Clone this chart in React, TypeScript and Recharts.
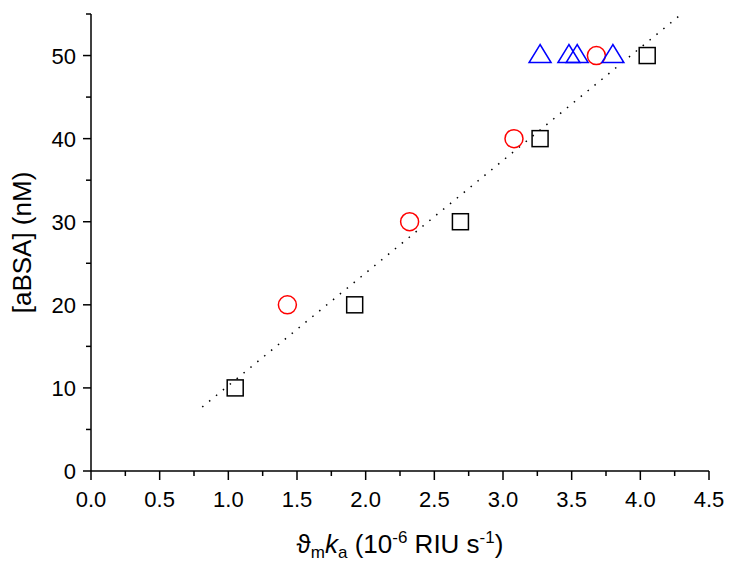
import React from 'react';
import { ScatterChart, Scatter, XAxis, YAxis } from 'recharts';

// data
const squareX = [1.05, 1.92, 2.69, 3.27, 4.05];
const squareY = [10, 20, 30, 40, 50];
const circleX = [1.43, 2.32, 3.08, 3.68];
const circleY = [20, 30, 40, 50];
const triangleX = [3.27, 3.48, 3.54, 3.8];
const triangleY = [50, 50, 50, 50];
const fitX = [0.81, 4.3];
const fitY = [7.7, 55];

const xMajorTicks = [0, 0.5, 1, 1.5, 2, 2.5, 3, 3.5, 4, 4.5];
const xMinorTicks = [0.25, 0.75, 1.25, 1.75, 2.25, 2.75, 3.25, 3.75, 4.25];
const yMajorTicks = [0, 10, 20, 30, 40, 50];
const yMinorTicks = [5, 15, 25, 35, 45, 55];

const FONT = '"Liberation Sans", Arial, sans-serif';

const toPoints = (xs: number[], ys: number[]) => xs.map((x, i) => ({ x, y: ys[i] }));

const squares = toPoints(squareX, squareY);
const circles = toPoints(circleX, circleY);
const triangles = toPoints(triangleX, triangleY);
const fitLine = toPoints(fitX, fitY);

const xTicks = [...xMajorTicks, ...xMinorTicks].sort((a, b) => a - b);
const yTicks = [...yMajorTicks, ...yMinorTicks].sort((a, b) => a - b);

const SquareShape = (p: any) => (
  <rect x={p.cx - 8} y={p.cy - 8} width={16} height={16} fill="none" stroke="#000" strokeWidth={1.5} />
);

const CircleShape = (p: any) => (
  <circle cx={p.cx} cy={p.cy} r={9} fill="none" stroke="#ff0000" strokeWidth={1.5} />
);

const TriangleShape = (p: any) => (
  <polygon
    points={`${p.cx},${p.cy - 11} ${p.cx - 11},${p.cy + 7} ${p.cx + 11},${p.cy + 7}`}
    fill="none"
    stroke="#0000ff"
    strokeWidth={1.5}
  />
);

const NoShape = () => <g />;

const XTick = (props: any) => {
  const { x, y, payload } = props;
  const major = xMajorTicks.includes(payload.value);
  return (
    <g>
      <line x1={x} x2={x} y1={y} y2={y + (major ? 9 : 5)} stroke="#000" strokeWidth={1.5} />
      {major && (
        <text x={x} y={y + 36} textAnchor="middle" fontFamily={FONT} fontSize={22} fill="#000">
          {payload.value.toFixed(1)}
        </text>
      )}
    </g>
  );
};

const YTick = (props: any) => {
  const { x, y, payload } = props;
  const major = yMajorTicks.includes(payload.value);
  return (
    <g>
      <line x1={x} x2={x - (major ? 8 : 5)} y1={y} y2={y} stroke="#000" strokeWidth={1.5} />
      {major && (
        <text x={x - 15} y={y + 8} textAnchor="end" fontFamily={FONT} fontSize={22} fill="#000">
          {payload.value}
        </text>
      )}
    </g>
  );
};

const XTitle = (props: any) => {
  const vb = props.viewBox;
  return (
    <text x={vb.x + vb.width / 2} y={vb.y + 82} textAnchor="middle" fontFamily={FONT} fontSize={26} fill="#000">
      <tspan>ϑ</tspan>
      <tspan fontSize={17} dy={5}>m</tspan>
      <tspan dy={-5} fontStyle="italic">k</tspan>
      <tspan fontSize={17} dy={5}>a</tspan>
      <tspan dy={-5}> (10</tspan>
      <tspan fontSize={17} dy={-10}>-6</tspan>
      <tspan dy={10}> RIU s</tspan>
      <tspan fontSize={17} dy={-10}>-1</tspan>
      <tspan dy={10}>)</tspan>
    </text>
  );
};

const YTitle = (props: any) => {
  const vb = props.viewBox;
  const cy = vb.y + vb.height / 2;
  return (
    <text
      transform={`translate(31, ${cy}) rotate(-90)`}
      textAnchor="middle"
      fontFamily={FONT}
      fontSize={26}
      fill="#000"
    >
      [aBSA] (nM)
    </text>
  );
};

export default function App() {
  return (
    <div style={{ position: 'absolute', left: 0, top: 0, background: '#fff' }}>
      <ScatterChart width={729} height={564} margin={{ top: 14, right: 20, left: 0, bottom: 0 }}>
        <XAxis
          type="number"
          dataKey="x"
          domain={[0, 4.5]}
          ticks={xTicks}
          interval={0}
          tickLine={false}
          tickSize={0}
          tickMargin={0}
          tick={<XTick />}
          height={93}
          axisLine={{ stroke: '#000', strokeWidth: 1.5 }}
          label={{ content: <XTitle /> } as any}
        />
        <YAxis
          type="number"
          dataKey="y"
          domain={[0, 55]}
          ticks={yTicks}
          interval={0}
          tickLine={false}
          tickSize={0}
          tickMargin={0}
          tick={<YTick />}
          width={91}
          axisLine={{ stroke: '#000', strokeWidth: 1.5 }}
          label={{ content: <YTitle /> } as any}
        />
        <Scatter
          data={fitLine}
          line={{ stroke: '#000', strokeWidth: 1.5, strokeDasharray: '1.5 7.4' }}
          shape={<NoShape />}
          isAnimationActive={false}
        />
        <Scatter data={squares} shape={<SquareShape />} isAnimationActive={false} />
        <Scatter data={circles} shape={<CircleShape />} isAnimationActive={false} />
        <Scatter data={triangles} shape={<TriangleShape />} isAnimationActive={false} />
      </ScatterChart>
    </div>
  );
}
